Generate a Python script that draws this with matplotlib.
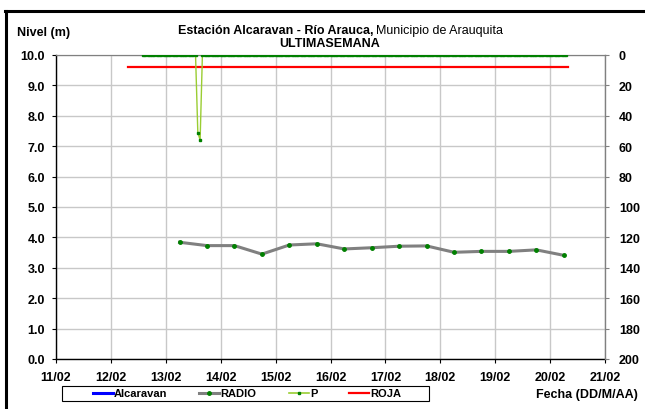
import numpy as np
import pandas as pd
import matplotlib
matplotlib.use('Agg')
import matplotlib.pyplot as plt
import matplotlib.dates as mdates
from matplotlib.lines import Line2D
from matplotlib.patches import Rectangle

plt.rcParams['font.family'] = ['Liberation Sans', 'DejaVu Sans']

# RADIO readings, nivel (m), every 12 h
radio_times = ['2013-02-13 06:00', '2013-02-13 18:00', '2013-02-14 06:00', '2013-02-14 18:00',
               '2013-02-15 06:00', '2013-02-15 18:00', '2013-02-16 06:00', '2013-02-16 18:00',
               '2013-02-17 06:00', '2013-02-17 18:00', '2013-02-18 06:00', '2013-02-18 18:00',
               '2013-02-19 06:00', '2013-02-19 18:00', '2013-02-20 06:00']
radio_values = [3.84, 3.73, 3.73, 3.45, 3.75, 3.79, 3.62, 3.66,
                3.71, 3.72, 3.51, 3.54, 3.54, 3.59, 3.41]

# P (precipitacion), hourly, right axis
p_start = '2013-02-12 14:00'
p_values = [0.0] * 24 + [51.0, 56.0] + [0.0] * 160

# ROJA alert level
roja_times = ['2013-02-12 07:30', '2013-02-20 08:00']
roja_values = [9.6, 9.6]

x_range = ['2013-02-11', '2013-02-21']

radio_t = pd.to_datetime(radio_times)
p_t = pd.date_range(p_start, periods=len(p_values), freq='h')
roja_t = pd.to_datetime(roja_times)

fig = plt.figure(figsize=(6.45, 4.10), dpi=100)
W, H = 645.0, 410.0
ax = fig.add_axes([56 / W, 50 / H, 549 / W, 304 / H])
ax2 = ax.twinx()

ax.plot(roja_t, roja_values, color='#ff0000', lw=1.6, zorder=3)
ax.plot(radio_t, radio_values, color='#808080', lw=2.2, marker='o', ms=2.5,
        mfc='#008000', mec='#008000', zorder=4)
ax2.plot(p_t, p_values, color='#9acd32', lw=1.0, marker='s', ms=1.8,
         mfc='#008000', mec='#008000', zorder=4)

ax.set_xlim(pd.to_datetime(x_range[0]), pd.to_datetime(x_range[1]))
ax.xaxis.set_major_locator(mdates.DayLocator())
ax.xaxis.set_major_formatter(mdates.DateFormatter('%d/%m'))
ax.set_ylim(0, 10)
ax.set_yticks(np.arange(0, 10.01, 1.0))
ax.yaxis.set_major_formatter(matplotlib.ticker.FormatStrFormatter('%.1f'))
ax2.set_ylim(200, 0)
ax2.set_yticks(np.arange(0, 201, 20))

ax.set_axisbelow(True)
ax.grid(True, color='#c8c8c8', lw=1.0)

for s in ['left', 'bottom']:
    ax.spines[s].set_color('black')
    ax.spines[s].set_linewidth(1.0)
ax.spines['right'].set_visible(False)
ax.spines['top'].set_color('#808080')
ax2.spines['left'].set_visible(False)
ax2.spines['bottom'].set_visible(False)
ax2.spines['top'].set_color('#808080')
ax2.spines['right'].set_color('#808080')
ax2.spines['right'].set_linewidth(1.0)

ax.tick_params(axis='both', direction='out', length=3, width=0.8, labelsize=9, pad=5)
ax.tick_params(axis='x', pad=6)
ax2.tick_params(axis='y', direction='out', length=3, width=0.8, labelsize=9, pad=7,
                color='#808080')
for lab in ax.get_xticklabels() + ax.get_yticklabels() + ax2.get_yticklabels():
    lab.set_fontweight('bold')

# titles
fig.text(17 / W, 1 - 33 / H, 'Nivel (m)', fontsize=9, fontweight='bold', va='center')
fig.text(373 / W, 1 - 31 / H, 'Estación Alcaravan - Río Arauca,', fontsize=9,
         fontweight='bold', ha='right', va='center')
fig.text(376 / W, 1 - 31 / H, 'Municipio de Arauquita', fontsize=9,
         ha='left', va='center')
fig.text(330 / W, 1 - 44 / H, 'ULTIMASEMANA', fontsize=9, fontweight='bold',
         ha='center', va='center')
fig.text(638 / W, 1 - 395 / H, 'Fecha (DD/M/AA)', fontsize=9, fontweight='bold',
         ha='right', va='center')

# legend
handles = [
    Line2D([], [], color='#0000ff', lw=2.2),
    Line2D([], [], color='#808080', lw=2.2, marker='o', ms=2.5, mfc='#008000', mec='#008000'),
    Line2D([], [], color='#9acd32', lw=1.2, marker='s', ms=1.8, mfc='#008000', mec='#008000'),
    Line2D([], [], color='#ff0000', lw=1.6),
]
labels = ['Alcaravan', 'RADIO', 'P', 'ROJA']
ax.legend(handles, labels, loc='center', bbox_to_anchor=(247 / W, 1 - 394.5 / H),
          bbox_transform=fig.transFigure, ncol=4, frameon=False,
          prop={'weight': 'bold', 'size': 8}, handlelength=1.8,
          handletextpad=0.1, columnspacing=2.9)
fig.add_artist(Rectangle((62 / W, 1 - 402 / H), (429 - 62) / W, 15 / H,
                         transform=fig.transFigure, fill=False, edgecolor='black', lw=0.8))

# outer frame (top and left)
fig.add_artist(Line2D([5.5 / W, 5.5 / W], [0, 1 - 11.5 / H], transform=fig.transFigure,
                      color='black', lw=2.2))
fig.add_artist(Line2D([4.5 / W, 1], [1 - 11.5 / H, 1 - 11.5 / H], transform=fig.transFigure,
                      color='black', lw=2.2))

fig.savefig('out.png', dpi=100)
